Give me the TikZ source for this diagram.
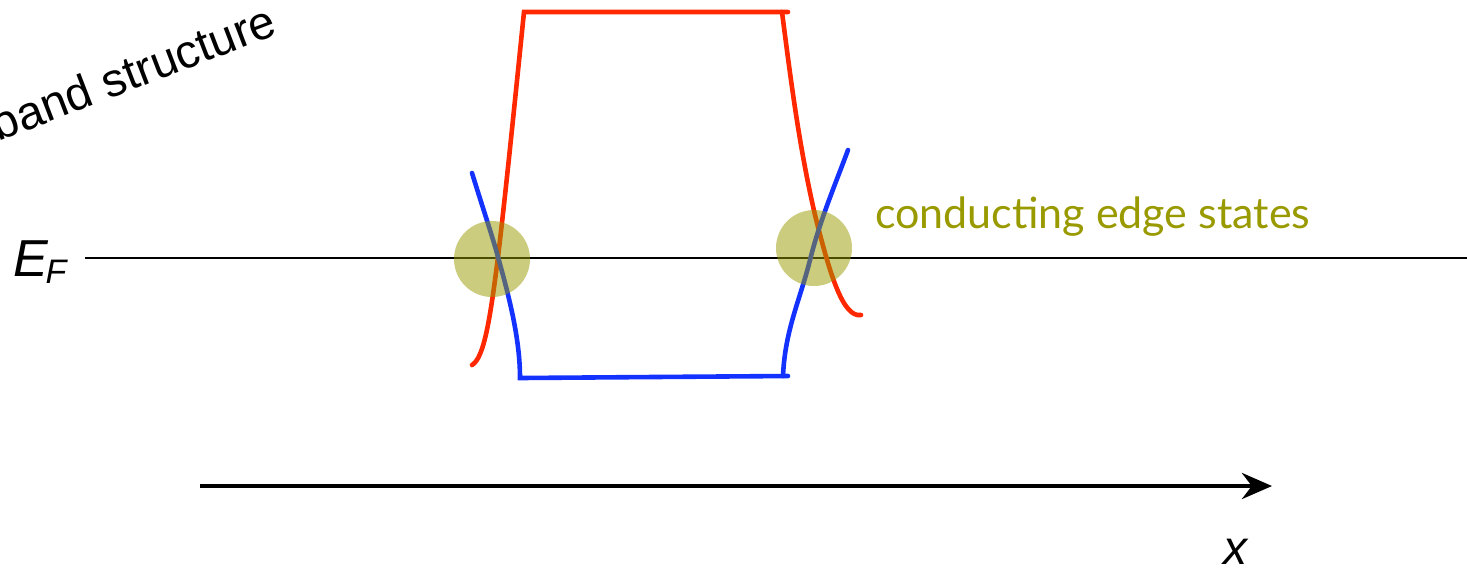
\documentclass[tikz,border=0pt]{standalone}
\usepackage{fontspec}
\setmainfont{Liberation Sans}
\newfontfamily\gillfont{Lato}
\usepackage{xcolor}
\usetikzlibrary{arrows.meta}
\definecolor{bandred}{RGB}{255,40,0}
\definecolor{bandblue}{RGB}{20,50,255}
\definecolor{edgeolive}{RGB}{153,153,0}
\tikzset{
  redband/.style={bandred,line width=2.3pt,line cap=round},
  blueband/.style={bandblue,line width=2.3pt,line cap=round},
  edgespot/.style={circle,fill=edgeolive,fill opacity=0.5,minimum size=38pt,inner sep=0pt},
}

\begin{document}
\begin{tikzpicture}[x=0.5pt,y=-0.5pt]
\useasboundingbox (0,0) rectangle (1467,575);
% labels
\node[rotate=21,font=\fontsize{23.5}{28}\selectfont] (title) at (133,72) {band structure};
\node[font=\fontsize{26}{30}\selectfont\itshape] (EF) at (40,262) {E\kern-0.05em\raisebox{-0.12em}{\fontsize{17}{20}\selectfont F}};
\node[font=\fontsize{24}{28}\selectfont\itshape] (xlab) at (1235,552) {x};
\node[anchor=west,text=edgeolive,font=\gillfont\fontsize{21.5}{26}\selectfont] (edgetext) at (868,217) {conducting edge states};
% Fermi level and axis
\coordinate (fermiL) at (85,258);
\coordinate (fermiR) at (1467,258);
\draw[line width=1pt] (fermiL)--(fermiR);
\coordinate (axisL) at (200,486);
\coordinate (axisR) at (1272,486);
\draw[line width=2.2pt,-{Stealth[length=15pt,width=13pt]}] (axisL)--(axisR);
% bands
\draw[redband] (472,365) .. controls (484,358) and (490,320) .. (498,257)
  .. controls (506,190) and (515,100) .. (524,12) -- (788,12);
\draw[redband] (782,12) .. controls (792,90) and (800,150) .. (815,215)
  .. controls (830,275) and (843,318) .. (861,315);
\draw[blueband] (472,173) .. controls (485,215) and (492,235) .. (498,257)
  .. controls (510,300) and (520,340) .. (520,378) -- (788,376);
\draw[blueband] (783,376) .. controls (785,330) and (800,300) .. (810,260)
  .. controls (820,220) and (835,185) .. (848,150);
% edge states
\node[edgespot] (spotL) at (492,259) {};
\node[edgespot] (spotR) at (814,248) {};
\end{tikzpicture}
\end{document}
